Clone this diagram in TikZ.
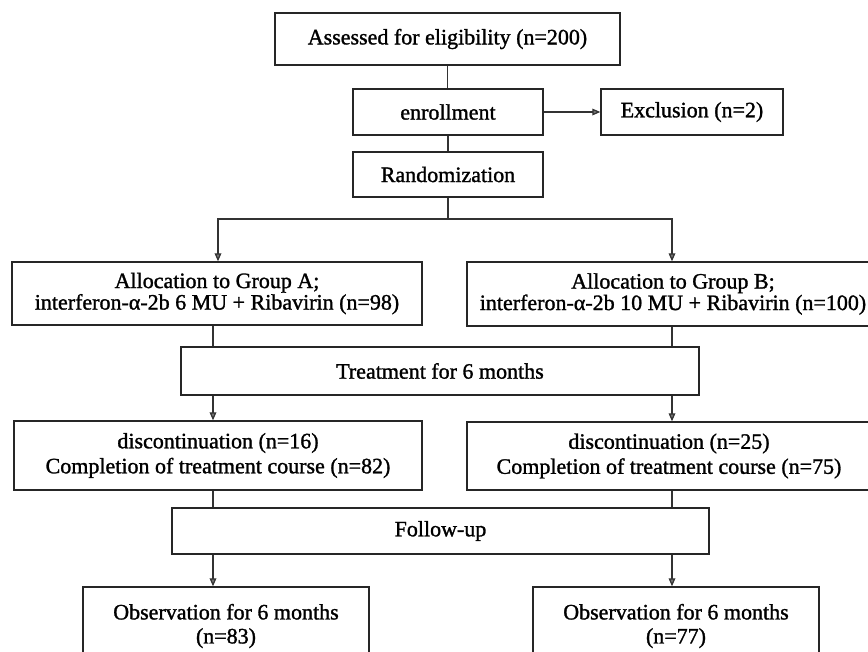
\documentclass[tikz,border=0pt]{standalone}
\usepackage{fontspec}
\setmainfont{Liberation Serif}
\newfontfamily\diagfont[FakeBold=1.3]{Liberation Serif}
\usetikzlibrary{arrows.meta}
\begin{document}
\begin{tikzpicture}[x=0.75pt,y=-0.75pt,
  box/.style={draw=black!85,line width=1.05pt,rectangle,inner sep=0pt,align=center,
    font=\diagfont\fontsize{16.5}{14.25}\selectfont},
  link/.style={draw=black!80,line width=0.9pt},
  arr/.style={link,-{Triangle[length=6pt,width=5pt,fill=black!55]}}]
\useasboundingbox (0,0) rectangle (868,651);
\fill[white] (0,0) rectangle (868,651);
% nodes
\node[box,minimum width=258.75pt,minimum height=39pt] (assess) at (447.5,39) {Assessed for eligibility (n=200)};
\node[box,minimum width=142.5pt,minimum height=34.5pt] (enroll) at (448,112) {enrollment};
\node[box,minimum width=136.5pt,minimum height=34.5pt] (excl) at (692,112) {Exclusion (n=2)};
\node[box,minimum width=142.5pt,minimum height=33.75pt] (random) at (448,174.5) {Randomization};
\node[box,minimum width=307.5pt,minimum height=47.25pt] (allocA) at (217,293.5) {Allocation to Group A;\\interferon-α-2b 6 MU + Ribavirin (n=98)};
\node[box,minimum width=309pt,minimum height=48pt] (allocB) at (673,294) {Allocation to Group B;\\interferon-α-2b 10 MU + Ribavirin (n=100)};
\node[box,minimum width=388.5pt,minimum height=36pt] (treat) at (440,371) {Treatment for 6 months};
\node[box,minimum width=306pt,minimum height=51.75pt,font=\diagfont\fontsize{16.5}{18.75}\selectfont] (discA) at (218,455.5) {discontinuation (n=16)\\Completion of treatment course (n=82)};
\node[box,minimum width=303pt,minimum height=51pt,font=\diagfont\fontsize{16.5}{18.75}\selectfont] (discB) at (669,456) {discontinuation (n=25)\\Completion of treatment course (n=75)};
\node[box,minimum width=402.75pt,minimum height=34.5pt] (follow) at (440.5,531) {Follow-up};
\node[box,minimum width=214.5pt,minimum height=58.5pt,font=\diagfont\fontsize{16.5}{18}\selectfont] (obsA) at (226,626) {Observation for 6 months\\(n=83)};
\node[box,minimum width=214.5pt,minimum height=58.5pt,font=\diagfont\fontsize{16.5}{18}\selectfont] (obsB) at (676,626) {Observation for 6 months\\(n=77)};
% column coordinates
\coordinate (br) at (448,219);
\coordinate (brA) at (218,219);
\coordinate (brB) at (672,219);
\coordinate (cA) at (213,0);
\coordinate (cB) at (672,0);
% connectors
\draw[link] (assess.south) -- (assess.south |- enroll.north);
\draw[arr] (enroll.east) -- (enroll.east -| excl.west);
\draw[link] (enroll.south) -- (random.north);
\draw[link] (random.south) -- (br);
\draw[arr] (br) -- (brA) -- (brA |- allocA.north);
\draw[arr] (br) -- (brB) -- (brB |- allocB.north);
\draw[link] (cA |- allocA.south) -- (cA |- treat.north);
\draw[link] (cB |- allocB.south) -- (cB |- treat.north);
\draw[arr] (cA |- treat.south) -- (cA |- discA.north);
\draw[arr] (cB |- treat.south) -- (cB |- discB.north);
\draw[link] (cA |- discA.south) -- (cA |- follow.north);
\draw[link] (cB |- discB.south) -- (cB |- follow.north);
\draw[arr] (cA |- follow.south) -- (cA |- obsA.north);
\draw[arr] (cB |- follow.south) -- (cB |- obsB.north);
\end{tikzpicture}
\end{document}
